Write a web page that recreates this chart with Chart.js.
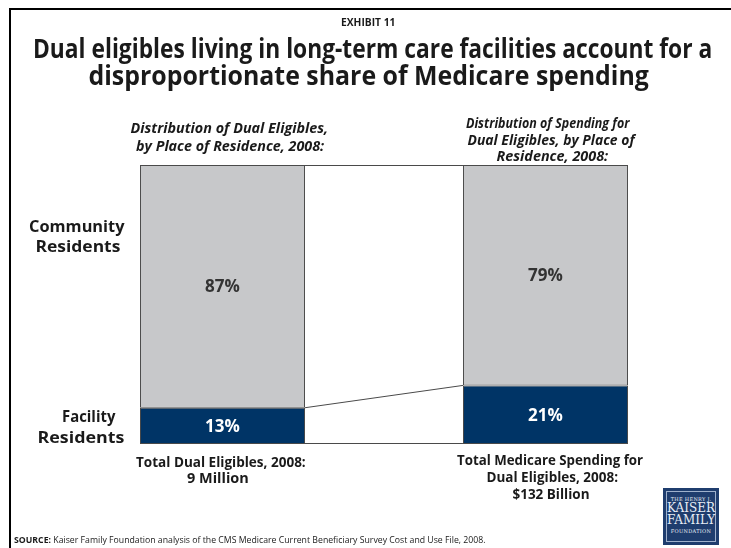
<!DOCTYPE html>
<html>
<head>
<meta charset="utf-8">
<script src="https://cdn.jsdelivr.net/npm/chart.js@4.4.1/dist/chart.umd.min.js"></script>
<style>
  html, body { margin: 0; padding: 0; background: #fff; }
  #page { position: relative; width: 731px; height: 548px; overflow: hidden; font-family: "Open Sans", Lato, sans-serif; color: #1a1a1a; }
  #frame { position: absolute; left: 9px; top: 8px; right: -5px; bottom: -5px; border-top: 2px solid #000; border-left: 2px solid #000; }
  #chartBox { position: absolute; left: 0; top: 0; width: 731px; height: 548px; }
  .t { position: absolute; white-space: nowrap; font-weight: bold; transform-origin: center center; line-height: 1; }
  .it { font-style: italic; }
  #logo { position: absolute; left: 663px; top: 488px; width: 56px; height: 57px; background: #1f3d6e; }
  #logo .in { position: absolute; left: 3px; top: 3px; right: 3px; bottom: 3px; border: 1px solid #9fb1cc; color: #e8edf5; font-family: "DejaVu Serif", serif; text-align: center; }
</style>
</head>
<body>
<div id="page">
  <div id="frame"></div>
  <div id="chartBox"><canvas id="chart_dual" width="731" height="548"></canvas></div>
  <div id="logo"><div class="in">
    <div style="font-size:5px;margin-top:4px;letter-spacing:0.3px;">THE HENRY J.</div>
    <div style="font-size:12px;line-height:12px;">KAISER</div>
    <div style="font-size:12px;line-height:12px;">FAMILY</div>
    <div style="font-size:5px;margin-top:2px;letter-spacing:0.3px;">FOUNDATION</div>
  </div></div>
</div>
<script>
/* ------------------
    Data
-------------------*/
var places = ['Dual Eligibles', 'Medicare Spending'];
var facilityShare = [13, 21];
var communityShare = [87, 79];
var groupNames = ['Facility Residents', 'Community Residents'];

var navy = '#003466';
var grey = '#c7c8ca';
var edge = '#4a4a4a';

/* ------------------
    Text placed around the chart: [text, centerX, centerY, width, size, italic]
-------------------*/
var texts = [
  ['EXHIBIT 11', 368, 21, 54, 11, false],
  ['Dual eligibles living in long-term care facilities account for a', 372, 48, 679, 26, false],
  ['disproportionate share of Medicare spending', 368, 75, 560, 26, false],
  ['Distribution of Dual Eligibles,', 229, 128, 198, 14, true],
  ['by Place of Residence, 2008:', 230, 146, 188, 14, true],
  ['Distribution of Spending for', 548, 123, 164, 14, true],
  ['Dual Eligibles, by Place of', 551, 140, 167, 14, true],
  ['Residence, 2008:', 552, 156, 112, 14, true],
  ['Community', 76, 226, 95, 16, false],
  ['Residents', 78, 246, 85, 16, false],
  ['Facility', 88, 416, 53, 16, false],
  ['Residents', 81, 437, 87, 16, false],
  ['Total Dual Eligibles, 2008:', 221, 462, 170, 14, false],
  ['9 Million', 218, 478, 62, 14, false],
  ['Total Medicare Spending for', 550, 460, 186, 14, false],
  ['Dual Eligibles, 2008:', 552, 477, 132, 14, false],
  ['$132 Billion', 551, 494, 77, 14, false]
];

var page = document.getElementById('page');
texts.forEach(function (t) {
  var el = document.createElement('div');
  el.className = 't' + (t[5] ? ' it' : '');
  el.textContent = t[0];
  el.style.fontSize = t[4] + 'px';
  page.appendChild(el);
  var w = el.offsetWidth, h = el.offsetHeight;
  el.style.left = (t[1] - w / 2) + 'px';
  el.style.top = (t[2] - h / 2) + 'px';
  el.style.transform = 'scaleX(' + (t[3] / w) + ')';
});

// source line
var src = document.createElement('div');
src.style.cssText = 'position:absolute;left:14px;top:533px;font-size:9px;white-space:nowrap;transform-origin:left center;';
src.innerHTML = '<b>SOURCE:</b> Kaiser Family Foundation analysis of the CMS Medicare Current Beneficiary Survey Cost and Use File, 2008.';
page.appendChild(src);
src.style.transform = 'scaleX(' + (472 / src.offsetWidth) + ')';

/* ------------------
    Lines joining the two bars + value labels
-------------------*/
var joinLines = {
  id: 'joinLines',
  afterDatasetsDraw: function (chart) {
    var ctx = chart.ctx;
    var y = chart.scales.y;
    var low = chart.getDatasetMeta(0).data;
    var high = chart.getDatasetMeta(1).data;
    var x1 = low[0].x + low[0].width / 2;
    var x2 = low[1].x - low[1].width / 2;
    ctx.save();
    ctx.strokeStyle = edge;
    ctx.lineWidth = 1;
    ctx.beginPath();
    ctx.moveTo(x1, y.getPixelForValue(100) + 0.5);
    ctx.lineTo(x2, y.getPixelForValue(100) + 0.5);
    ctx.moveTo(x1, y.getPixelForValue(0) - 0.5);
    ctx.lineTo(x2, y.getPixelForValue(0) - 0.5);
    ctx.moveTo(x1, y.getPixelForValue(facilityShare[0]));
    ctx.lineTo(x2, y.getPixelForValue(facilityShare[1]));
    ctx.stroke();

    ctx.font = 'bold 17px "Open Sans", Lato, sans-serif';
    ctx.textAlign = 'center';
    ctx.textBaseline = 'middle';
    [low, high].forEach(function (bars, d) {
      bars.forEach(function (bar, i) {
        var v = chart.data.datasets[d].data[i];
        ctx.fillStyle = d === 0 ? '#ffffff' : '#333333';
        ctx.fillText(v + '%', bar.x, (bar.y + bar.base) / 2 + 1);
      });
    });
    ctx.restore();
  }
};

var chart_dual = new Chart(document.getElementById('chart_dual'), {
  type: 'bar',
  data: {
    labels: places,
    datasets: [
      {
        label: groupNames[0],
        data: facilityShare,
        backgroundColor: navy,
        borderColor: edge,
        borderWidth: 1,
        borderSkipped: false
      },
      {
        label: groupNames[1],
        data: communityShare,
        backgroundColor: grey,
        borderColor: edge,
        borderWidth: 1,
        borderSkipped: false
      }
    ]
  },
  options: {
    responsive: false,
    animation: false,
    layout: { padding: { top: 165, bottom: 104, left: 61, right: 24 } },
    datasets: { bar: { barPercentage: 1, categoryPercentage: 0.511 } },
    scales: {
      x: { stacked: true, display: false },
      y: { stacked: true, display: false, min: 0, max: 100 }
    },
    plugins: {
      legend: { display: false },
      tooltip: { enabled: false },
      title: { display: false }
    }
  },
  plugins: [joinLines]
});
</script>
</body>
</html>
